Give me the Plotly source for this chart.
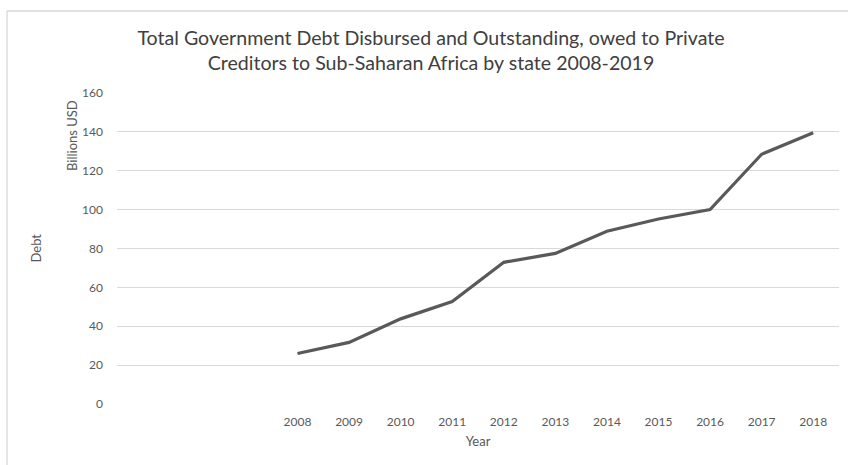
import plotly.graph_objects as go

years = [2008, 2009, 2010, 2011, 2012, 2013, 2014, 2015, 2016, 2017, 2018]
debt = [26.0, 31.7, 43.8, 52.7, 72.9, 77.5, 88.9, 95.2, 100.0, 128.5, 139.5]
y_ticks = [0, 20, 40, 60, 80, 100, 120, 140, 160]

title_text = ("Total Government Debt Disbursed and Outstanding, owed to Private<br>"
              "Creditors to Sub-Saharan Africa by state 2008-2019")

FONT = "Lato"
W, H = 848, 465
L, R, T, B = 117, 9, 93, 61
pw, ph = W - L - R, H - T - B

fig = go.Figure()
fig.add_trace(go.Scatter(
    x=years, y=debt, mode="lines",
    line=dict(color="#595959", width=3.2),
    hoverinfo="x+y", showlegend=False,
))

fig.update_layout(
    width=W, height=H,
    margin=dict(l=L, r=R, t=T, b=B),
    paper_bgcolor="white", plot_bgcolor="white",
    font=dict(family=FONT, color="#595959", size=12),
    title=dict(text=title_text, x=431 / W, xanchor="center",
               y=1 - 45 / H, yanchor="middle",
               font=dict(family=FONT, size=19.6, color="#404040")),
    xaxis=dict(
        range=[2004.5, 2018.5], tickmode="array", tickvals=years,
        ticktext=[str(y) for y in years], showgrid=False, zeroline=False,
        showline=False, ticks="", ticklabelstandoff=9,
        tickfont=dict(size=12, color="#595959"),
        title=dict(text="Year", font=dict(size=13, color="#595959"), standoff=8),
        fixedrange=True,
    ),
    yaxis=dict(
        range=[0, 160], tickmode="array", tickvals=y_ticks,
        showgrid=True, gridcolor="#d9d9d9", gridwidth=1.4,
        zeroline=False, showline=False, ticks="", ticklabelstandoff=13,
        tickfont=dict(size=12, color="#595959"),
        fixedrange=True,
    ),
    annotations=[
        dict(text="Debt", xref="paper", yref="paper",
             x=(35 - L) / pw, y=0.5, xanchor="center", yanchor="middle",
             textangle=-90, showarrow=False,
             font=dict(family=FONT, size=13, color="#595959")),
        dict(text="Billions USD", xref="paper", yref="paper",
             x=(72 - L) / pw, y=(H - B - 136) / ph, xanchor="center", yanchor="middle",
             textangle=-90, showarrow=False,
             font=dict(family=FONT, size=13, color="#595959")),
    ],
    shapes=[
        dict(type="line", xref="paper", yref="paper",
             x0=(7 - L) / pw, x1=(W + 5 - L) / pw,
             y0=(H - B - 11) / ph, y1=(H - B - 11) / ph,
             line=dict(color="#d9d9d9", width=1.3)),
        dict(type="line", xref="paper", yref="paper",
             x0=(7 - L) / pw, x1=(7 - L) / pw,
             y0=(H - B - 11) / ph, y1=(H - B - 470) / ph,
             line=dict(color="#d9d9d9", width=1.3)),
    ],
)

fig.write_html("out.html")
